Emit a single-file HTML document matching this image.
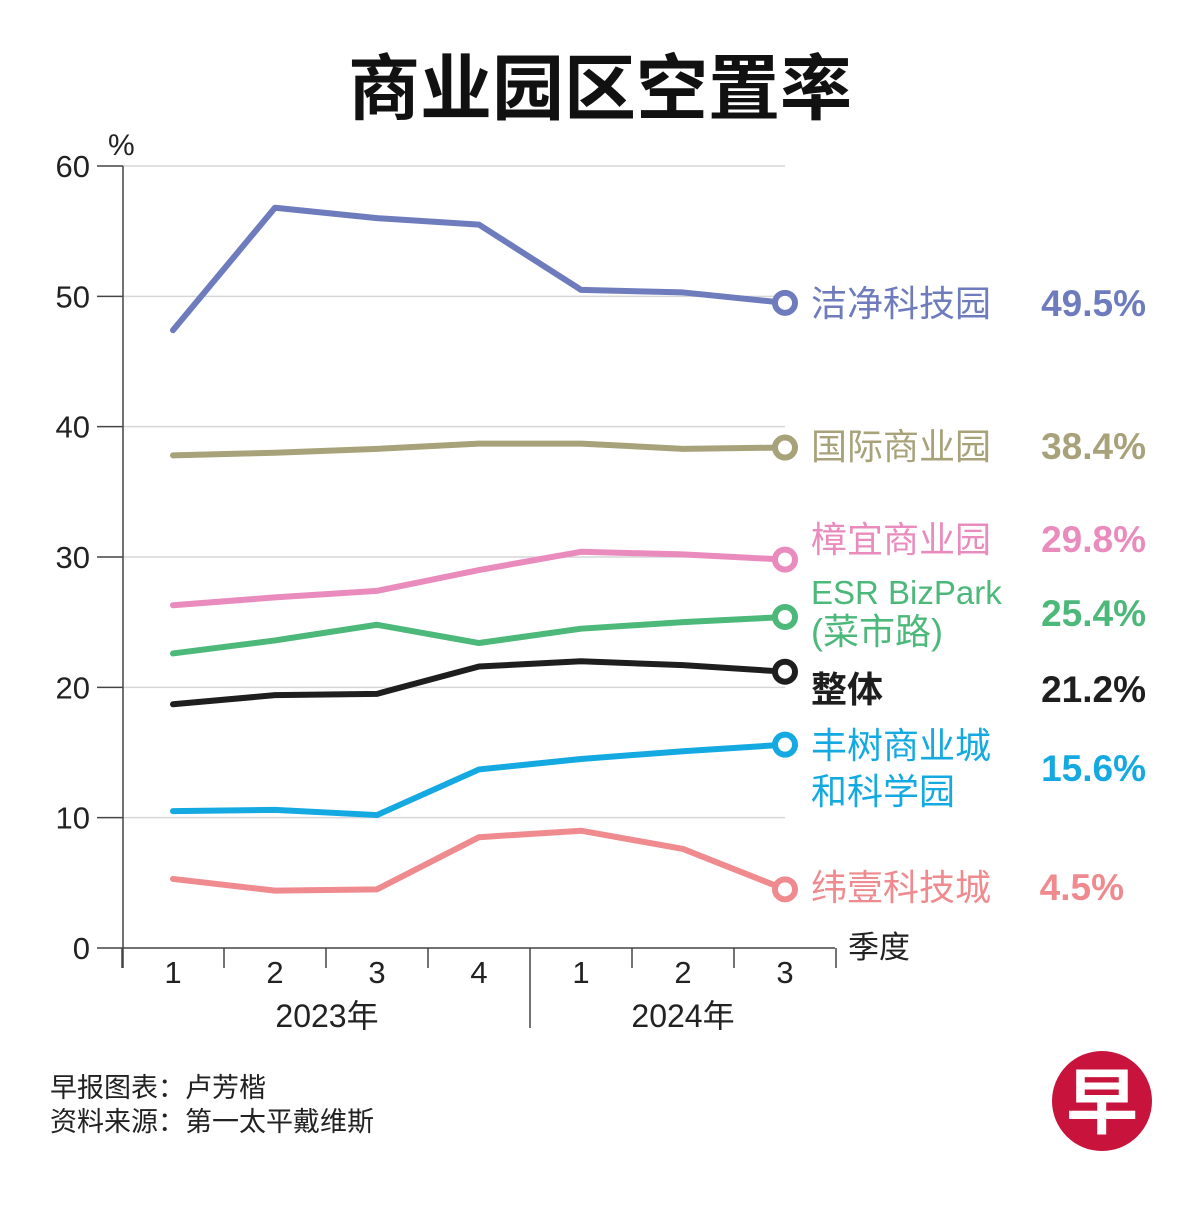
<!DOCTYPE html>
<html><head><meta charset="utf-8"><style>
body{margin:0;background:#fff}
svg text{font-family:"Liberation Sans","Noto Sans CJK SC",sans-serif}
</style></head><body>
<svg id="chart" width="1200" height="1200" viewBox="0 0 1200 1200" xmlns="http://www.w3.org/2000/svg">
<rect width="1200" height="1200" fill="#fff"/>
<text x="600" y="114" text-anchor="middle" font-size="72" font-weight="bold" fill="#111">商业园区空置率</text>
<text x="108" y="155" font-size="30" fill="#222">%</text>
<g id="grid"></g><g id="axes"></g><g id="series"></g><g id="labels"></g>
<text x="848" y="958" font-size="31" fill="#222">季度</text>
<text x="50" y="1097" font-size="27" fill="#222">早报图表：卢芳楷</text>
<text x="50" y="1131" font-size="27" fill="#222">资料来源：第一太平戴维斯</text>
<g>
<circle cx="1102" cy="1101" r="50" fill="#c8143c"/>
<text x="1102" y="1128" text-anchor="middle" font-size="72" font-weight="bold" fill="#fff">早</text>
</g>
</svg>
<script>
const quarters=["1","2","3","4","1","2","3"];
const years=["2023年","2024年"];
const yTicks=[0,10,20,30,40,50,60];
const names=["洁净科技园","国际商业园","樟宜商业园","ESR BizPark","整体","丰树商业城","纬壹科技城"];
const cleantech=[47.4,56.8,56.0,55.5,50.5,50.3,49.5];
const ibp=[37.8,38.0,38.3,38.7,38.7,38.3,38.4];
const changi=[26.3,26.9,27.4,29.0,30.4,30.2,29.8];
const esr=[22.6,23.6,24.8,23.4,24.5,25.0,25.4];
const overall=[18.7,19.4,19.5,21.6,22.0,21.7,21.2];
const mapletree=[10.5,10.6,10.2,13.7,14.5,15.1,15.6];
const onenorth=[5.3,4.4,4.5,8.5,9.0,7.6,4.5];
const valueLabels=["49.5%","38.4%","29.8%","25.4%","21.2%","15.6%","4.5%"];

const NS="http://www.w3.org/2000/svg";
const x=i=>173+i*102;
const y=v=>948-v*(782/60);
function mk(tag,attrs,parent,text){const e=document.createElementNS(NS,tag);for(const k in attrs)e.setAttribute(k,attrs[k]);if(text!==undefined)e.textContent=text;document.getElementById(parent).appendChild(e);return e;}

yTicks.forEach(t=>{
  if(t>0){const g=mk('line',{x1:123,x2:785,y1:y(t),y2:y(t),stroke:'#d6d6d6','stroke-width':1.5},'grid');
  
  }
  const tk=mk('line',{x1:97,x2:123,y1:y(t),y2:y(t),stroke:'#444','stroke-width':1.5},'axes');
  
  
  const tl=mk('text',{x:90,y:y(t)+11,'text-anchor':'end','font-size':31,fill:'#222'},'axes',String(t));
  
  
});
let a=mk('line',{x1:123,x2:123,y1:166,y2:968,stroke:'#444','stroke-width':1.5},'axes');


a=mk('line',{x1:123,x2:835,y1:948,y2:948,stroke:'#444','stroke-width':1.5},'axes');


for(let i=0;i<=quarters.length;i++){
  const xx=x(i)-51;
  const t=mk('line',{x1:xx,x2:xx,y1:948,y2:i===4?1028:968,stroke:'#444','stroke-width':1.5},'axes');
  
  
}
quarters.forEach((q,i)=>{
  const t=mk('text',{x:x(i),y:983,'text-anchor':'middle','font-size':31,fill:'#222'},'axes',q);
  
  
});
years.forEach((yr,i)=>{
  const t=mk('text',{x:i===0?327:683,y:1027,'text-anchor':'middle','font-size':32,fill:'#222'},'axes',yr);
  
  
});

const series=[
 {d:cleantech,c:'#6e7bbd',lab:['洁净科技园'],ly:[316],vy:316},
 {d:ibp,c:'#a8a27a',lab:['国际商业园'],ly:[459],vy:459},
 {d:changi,c:'#ea8bbd',lab:['樟宜商业园'],ly:[552],vy:552},
 {d:esr,c:'#4cb87a',lab:['ESR BizPark','(菜市路)'],ly:[604,644],vy:626},
 {d:overall,c:'#1e1e1e',lab:['整体'],ly:[702],vy:702,bold:true},
 {d:mapletree,c:'#14a9e1',lab:['丰树商业城','和科学园'],ly:[758,804],vy:781},
 {d:onenorth,c:'#ef8a8e',lab:['纬壹科技城'],ly:[900],vy:900}
];
series.forEach((s,k)=>{
  const pts=s.d.map((v,i)=>x(i)+','+y(v)).join(' ');
  const p=mk('polyline',{points:pts,fill:'none',stroke:s.c,'stroke-width':6,'stroke-linejoin':'round','stroke-linecap':'round'},'series');
  
  
  const last=s.d.length-1;
  const c=mk('circle',{cx:x(last),cy:y(s.d[last]),r:10,fill:'#fff',stroke:s.c,'stroke-width':6},'series');
  
  
  s.lab.forEach((l,j)=>{
    const t=mk('text',{x:811,y:s.ly[j],'font-size':36,fill:s.c,'font-weight':s.bold?'bold':'normal'},'labels',l);
    if(l.startsWith('ESR'))t.setAttribute('font-size',33);
    
    
  });
  const v=mk('text',{x:k===6?1124:1146,y:s.vy,'text-anchor':'end','font-size':37,'font-weight':'bold',fill:s.c},'labels',valueLabels[k]);
  
  
});
</script>
</body></html>
